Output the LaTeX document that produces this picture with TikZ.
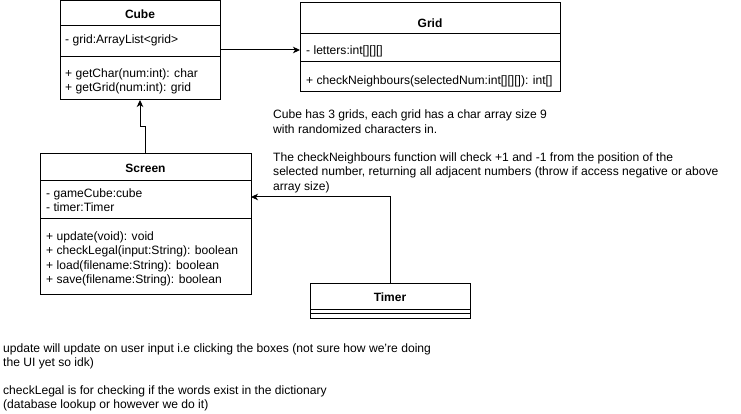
\documentclass[tikz,border=0pt]{standalone}
\usepackage{fontspec}
\setmainfont{Liberation Sans}
\usetikzlibrary{arrows.meta}

\tikzstyle{classbox}=[draw, line width=1pt, anchor=north west, inner sep=0pt, outer sep=0pt]
\tikzstyle{classname}=[anchor=base, inner sep=0pt, font=\fontsize{12}{14.3}\selectfont\bfseries]
\tikzstyle{member}=[anchor=base west, inner sep=0pt, align=left, font=\fontsize{12.1}{14.4}\selectfont]
\tikzstyle{note}=[anchor=base west, inner sep=0pt, align=left, font=\fontsize{12.1}{14.4}\selectfont]
\tikzstyle{assoc}=[line width=1pt, -{Stealth[length=7pt,width=6.5pt,inset=2pt]}]

\begin{document}
\begin{tikzpicture}[x=1pt,y=-1pt]
\useasboundingbox (0,0) rectangle (741,414);

% Cube
\node[classbox, minimum width=160pt, minimum height=99pt] (cube) at (60,1) {};
\draw[line width=1pt] (60,26) -- (220,26);
\draw[line width=1pt] (60,57) -- (220,57);
\node[classname] (cubetitle) at (140,19) {Cube};
\node[member] (cubeattr) at (65,43.5) {- grid:ArrayList<grid>};
\node[member] (cubeops) at (65,91.9) {+ getChar(num:int): char\\+ getGrid(num:int): grid};

% Grid
\node[classbox, minimum width=260pt, minimum height=89pt] (grid) at (300,3) {};
\draw[line width=1pt] (300,34) -- (560,34);
\draw[line width=1pt] (300,62) -- (560,62);
\node[classname] (gridtitle) at (430,27.5) {Grid};
\node[member] (gridattr) at (306,54.5) {- letters:int[][][]};
\node[member] (gridops) at (306,84.5) {+ checkNeighbours(selectedNum:int[][][]): int[]};

% Screen
\node[classbox, minimum width=211pt, minimum height=140pt] (screen) at (40,154) {};
\draw[line width=1pt] (40,181) -- (251,181);
\draw[line width=1pt] (40,218) -- (251,218);
\node[classname] (screentitle) at (145.5,172.5) {Screen};
\node[member] (screenattr) at (46,211.9) {- gameCube:cube\\- timer:Timer};
\node[member] (screenops) at (46,283.7) {+ update(void): void\\+ checkLegal(input:String): boolean\\+ load(filename:String): boolean\\+ save(filename:String): boolean};

% Timer
\node[classbox, minimum width=160pt, minimum height=35pt] (timer) at (310,283) {};
\draw[line width=1pt] (310,309) -- (470,309);
\draw[line width=1pt] (310,313) -- (470,313);
\node[classname] (timertitle) at (390,301.5) {Timer};

% notes
\node[note] (gridnote) at (273,133.4) {Cube has 3 grids, each grid has a char array size 9\\with randomized characters in.};
\node[note] (checknote) at (273,190.3) {The checkNeighbours function will check +1 and -1 from the position of the\\selected number, returning all adjacent numbers (throw if access negative or above\\array size)};
\node[note] (updatenote) at (3,366.4) {update will update on user input i.e clicking the boxes (not sure how we're doing\\the UI yet so idk)};
\node[note] (legalnote) at (3,408.9) {checkLegal is for checking if the words exist in the dictionary\\(database lookup or however we do it)};

% links
\coordinate (jog) at (140,127);
\coordinate (screenport) at (251,197);
\draw[assoc] (cube.east |- 0,50) -- (grid.west |- 0,50);
\draw[assoc] (screen.north) |- (jog) -- (cube.south);
\draw[assoc] (timer.north) |- (screenport);
\end{tikzpicture}
\end{document}
